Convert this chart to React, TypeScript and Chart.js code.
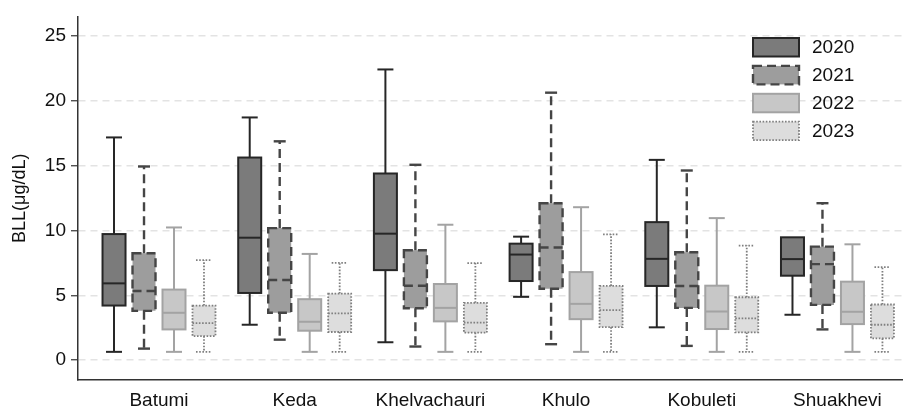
import React, { useEffect, useRef } from "react";
import { Chart, registerables } from "chart.js";

Chart.register(...registerables);

const categories = ["Batumi", "Keda", "Khelvachauri", "Khulo", "Kobuleti", "Shuakhevi"];
const years = ["2020", "2021", "2022", "2023"];
const yTicks = [0, 5, 10, 15, 20, 25];
const yTitle = "BLL(\u03bcg/dL)";

// Box-plot statistics per year, one value per category
const min2020 = [0.64, 2.73, 1.38, 4.88, 2.53, 3.5];
const q1_2020 = [4.21, 5.18, 6.94, 6.1, 5.72, 6.51];
const med2020 = [5.92, 9.44, 9.75, 8.14, 7.81, 7.79];
const q3_2020 = [9.72, 15.62, 14.39, 8.98, 10.64, 9.47];
const max2020 = [17.17, 18.71, 22.41, 9.52, 15.44, 9.47];

const min2021 = [0.89, 1.58, 1.05, 1.23, 1.1, 2.37];
const q1_2021 = [3.8, 3.65, 4.0, 5.51, 4.03, 4.26];
const med2021 = [5.33, 6.18, 5.74, 8.68, 5.72, 7.4];
const q3_2021 = [8.24, 10.18, 8.47, 12.1, 8.32, 8.75];
const max2021 = [14.93, 16.87, 15.06, 20.62, 14.62, 12.1];

const min2022 = [0.64, 0.64, 0.64, 0.64, 0.64, 0.64];
const q1_2022 = [2.37, 2.27, 2.99, 3.16, 2.4, 2.78];
const med2022 = [3.65, 2.96, 4.03, 4.34, 3.75, 3.73];
const q3_2022 = [5.44, 4.7, 5.87, 6.79, 5.74, 6.05];
const max2022 = [10.23, 8.19, 10.44, 11.79, 10.95, 8.93];

const min2023 = [0.64, 0.64, 0.64, 0.64, 0.64, 0.64];
const q1_2023 = [1.86, 2.17, 2.12, 2.55, 2.14, 1.68];
const med2023 = [2.86, 3.6, 2.89, 3.85, 3.22, 2.73];
const q3_2023 = [4.21, 5.13, 4.42, 5.72, 4.85, 4.29];
const max2023 = [7.71, 7.5, 7.48, 9.7, 8.83, 7.17];

const stats = [
  { min: min2020, q1: q1_2020, med: med2020, q3: q3_2020, max: max2020 },
  { min: min2021, q1: q1_2021, med: med2021, q3: q3_2021, max: max2021 },
  { min: min2022, q1: q1_2022, med: med2022, q3: q3_2022, max: max2022 },
  { min: min2023, q1: q1_2023, med: med2023, q3: q3_2023, max: max2023 },
];

const FONT = "'Liberation Sans', Arial, sans-serif";

const styles = [
  { fill: "#7b7b7b", line: "#262626", width: 2, dash: [] as number[], capDash: [] as number[], cap: 8 },
  { fill: "#9d9d9d", line: "#454545", width: 2.4, dash: [9, 5], capDash: [] as number[], cap: 6 },
  { fill: "#c7c7c7", line: "#a3a3a3", width: 2, dash: [] as number[], capDash: [] as number[], cap: 8 },
  { fill: "#dddddd", line: "#7f7f7f", width: 1.8, dash: [1.6, 1.6], capDash: [1.6, 1.6], cap: 8 },
];

const boxPlugin = {
  id: "boxWhiskers",
  afterDatasetsDraw(chart: any) {
    const ctx = chart.ctx;
    const ys = chart.scales.y;
    const line = (x1: number, y1: number, x2: number, y2: number) => {
      ctx.beginPath();
      ctx.moveTo(x1, y1);
      ctx.lineTo(x2, y2);
      ctx.stroke();
    };
    chart.data.datasets.forEach((_ds: any, i: number) => {
      const meta = chart.getDatasetMeta(i);
      const st = styles[i];
      const s = stats[i];
      meta.data.forEach((el: any, j: number) => {
        const { x, width } = el.getProps(["x", "width"], true);
        const l = x - width / 2;
        const r = x + width / 2;
        const pMin = ys.getPixelForValue(s.min[j]);
        const pQ1 = ys.getPixelForValue(s.q1[j]);
        const pMed = ys.getPixelForValue(s.med[j]);
        const pQ3 = ys.getPixelForValue(s.q3[j]);
        const pMax = ys.getPixelForValue(s.max[j]);
        const cap = st.cap;
        ctx.save();
        ctx.strokeStyle = st.line;
        ctx.lineWidth = st.width;
        ctx.setLineDash(st.dash);
        if (s.max[j] > s.q3[j]) line(x, pQ3, x, pMax);
        if (s.min[j] < s.q1[j]) line(x, pQ1, x, pMin);
        ctx.strokeRect(l, pQ3, r - l, pQ1 - pQ3);
        line(l, pMed, r, pMed);
        ctx.setLineDash(st.capDash);
        if (s.max[j] > s.q3[j]) line(x - cap, pMax, x + cap, pMax);
        if (s.min[j] < s.q1[j]) line(x - cap, pMin, x + cap, pMin);
        ctx.restore();
      });
    });
  },
};

const legendPlugin = {
  id: "boxLegend",
  afterDraw(chart: any) {
    const ctx = chart.ctx;
    const left = 753;
    const top0 = 38;
    const step = 27.9;
    const bw = 46;
    const bh = 18.5;
    years.forEach((label, i) => {
      const st = styles[i];
      const top = top0 + i * step;
      ctx.save();
      ctx.fillStyle = st.fill;
      ctx.fillRect(left, top, bw, bh);
      ctx.strokeStyle = st.line;
      ctx.lineWidth = st.width;
      ctx.setLineDash(st.dash);
      ctx.strokeRect(left, top, bw, bh);
      ctx.setLineDash([]);
      ctx.fillStyle = "#111111";
      ctx.font = `19px ${FONT}`;
      ctx.textAlign = "left";
      ctx.textBaseline = "middle";
      ctx.fillText(label, left + 59, top + bh / 2 + 1);
      ctx.restore();
    });
  },
};

export default function App() {
  const canvasRef = useRef<HTMLCanvasElement | null>(null);

  useEffect(() => {
    document.body.style.margin = "0";
    const canvas = canvasRef.current;
    if (!canvas) return;
    const datasets = years.map((year, i) => ({
      label: year,
      data: categories.map((_c, j) => ({ x: j, y: [stats[i].q1[j], stats[i].q3[j]] })),
      backgroundColor: styles[i].fill,
      borderWidth: 0,
      borderSkipped: false,
      categoryPercentage: 0.884,
      barPercentage: 0.767,
    }));

    const chart = new Chart(canvas, {
      type: "bar",
      data: { datasets } as any,
      options: {
        animation: false,
        responsive: true,
        maintainAspectRatio: false,
        layout: { padding: { top: 14, left: 0, right: 0, bottom: 0 } },
        plugins: {
          legend: { display: false },
          tooltip: { enabled: false },
        },
        scales: {
          x: {
            type: "linear",
            offset: false,
            min: -0.597,
            max: 5.483,
            afterBuildTicks: (scale: any) => {
              scale.ticks = categories.map((_c, i) => ({ value: i }));
            },
            afterFit: (scale: any) => {
              scale.height = 29;
            },
            ticks: {
              callback: (_v: any, idx: number) => categories[idx],
              font: { family: FONT, size: 19 },
              color: "#111111",
              padding: 9,
              maxRotation: 0,
              autoSkip: false,
            },
            grid: { display: true, offset: false, drawOnChartArea: false, drawTicks: false },
            border: { display: true, color: "#333333", width: 1.5 },
          },
          y: {
            type: "linear",
            min: -1.53,
            max: 26.5,
            afterBuildTicks: (scale: any) => {
              scale.ticks = yTicks.map((v) => ({ value: v }));
            },
            afterFit: (scale: any) => {
              scale.width = 78;
            },
            ticks: {
              font: { family: FONT, size: 19 },
              color: "#111111",
              padding: 5,
            },
            grid: {
              color: "#e3e3e3",
              lineWidth: 1.5,
              tickLength: 7,
              tickColor: "#333333",
              tickWidth: 1.2,
              tickBorderDash: [],
            },
            border: { display: true, color: "#333333", width: 1.5, dash: [7, 5] },
            title: {
              display: true,
              text: yTitle,
              font: { family: FONT, size: 18 },
              color: "#111111",
              padding: { top: 9, bottom: 0 },
            },
          },
        },
      },
      plugins: [boxPlugin, legendPlugin],
    } as any);

    return () => chart.destroy();
  }, []);

  return (
    <div style={{ position: "relative", width: "903px", height: "409px" }}>
      <canvas ref={canvasRef} />
    </div>
  );
}
